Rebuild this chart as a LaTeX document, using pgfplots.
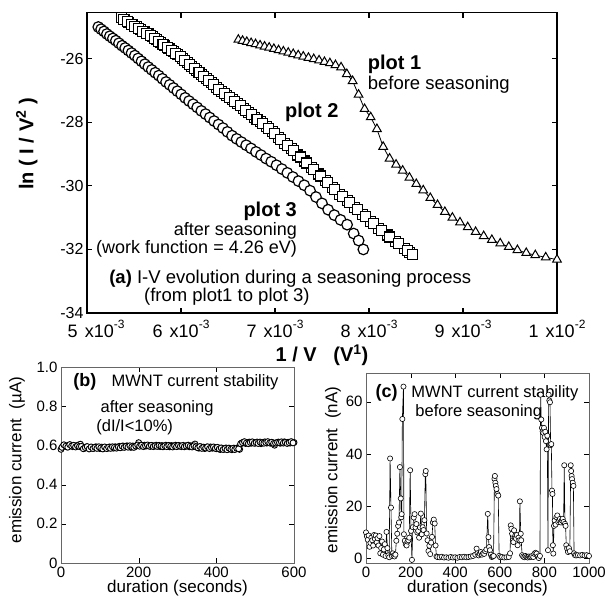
\documentclass[border=0pt]{standalone}
\usepackage{pgfplots}
\pgfplotsset{compat=1.18}
\usepackage{pgfplotstable}
\usepackage{fontspec}
\setmainfont{Liberation Sans}

\newcommand{\fs}[1]{\fontsize{#1}{#1}\selectfont}
\newcommand{\sx}[1]{\raisebox{0.45em}{\fs{12}#1}}

% panel (a): 1/V in units of 1e-3, ln(I/V^2)
\pgfplotstableread{
x y
5.120 -25.00
5.150 -25.07
5.181 -25.14
5.212 -25.22
5.243 -25.29
5.275 -25.36
5.307 -25.43
5.340 -25.51
5.373 -25.59
5.406 -25.66
5.440 -25.74
5.474 -25.82
5.509 -25.90
5.544 -25.99
5.580 -26.08
5.616 -26.17
5.652 -26.26
5.689 -26.35
5.726 -26.44
5.764 -26.53
5.802 -26.63
5.841 -26.73
5.880 -26.82
5.920 -26.92
5.961 -27.02
6.002 -27.12
6.044 -27.23
6.086 -27.33
6.129 -27.43
6.172 -27.53
6.216 -27.64
6.261 -27.74
6.306 -27.85
6.352 -27.96
6.399 -28.07
6.446 -28.18
6.494 -28.30
6.543 -28.42
6.592 -28.52
6.642 -28.62
6.693 -28.72
6.745 -28.82
6.798 -28.93
6.851 -29.03
6.905 -29.14
6.960 -29.24
7.016 -29.35
7.073 -29.47
7.131 -29.59
7.190 -29.72
7.250 -29.85
7.311 -29.98
7.373 -30.15
7.436 -30.35
7.500 -30.55
7.565 -30.75
7.631 -30.92
7.698 -31.07
7.767 -31.22
7.837 -31.50
7.890 -31.72
7.940 -32.00
}\plotthree

\pgfplotstableread{
x y
5.390 -24.77
5.429 -24.84
5.469 -24.91
5.509 -24.98
5.550 -25.05
5.591 -25.13
5.633 -25.20
5.676 -25.28
5.719 -25.36
5.763 -25.45
5.808 -25.55
5.853 -25.64
5.899 -25.74
5.946 -25.84
5.994 -25.94
6.042 -26.05
6.091 -26.18
6.141 -26.30
6.192 -26.43
6.244 -26.56
6.296 -26.69
6.349 -26.82
6.403 -26.96
6.458 -27.08
6.514 -27.21
6.571 -27.35
6.629 -27.48
6.688 -27.62
6.748 -27.76
6.809 -27.90
6.871 -28.04
6.934 -28.19
6.998 -28.36
7.063 -28.53
7.130 -28.72
7.198 -28.90
7.268 -29.09
7.339 -29.28
7.411 -29.48
7.485 -29.69
7.560 -29.90
7.637 -30.12
7.715 -30.32
7.795 -30.53
7.877 -30.75
7.960 -30.97
8.045 -31.19
8.132 -31.40
8.221 -31.61
8.312 -31.82
8.405 -32.04
8.460 -32.17
}\plottwo

\pgfplotstableread{
x y
6.610 -25.40
6.655 -25.435
6.700 -25.47
6.746 -25.505
6.793 -25.54
6.841 -25.58
6.889 -25.615
6.938 -25.65
6.988 -25.69
7.038 -25.73
7.089 -25.77
7.141 -25.81
7.194 -25.85
7.247 -25.89
7.301 -25.93
7.356 -25.97
7.412 -26.01
7.469 -26.05
7.526 -26.10
7.584 -26.14
7.643 -26.20
7.703 -26.27
7.764 -26.48
7.826 -26.70
7.889 -27.13
7.953 -27.58
8.018 -27.84
8.084 -28.21
8.151 -28.77
8.219 -29.14
8.288 -29.33
8.358 -29.52
8.430 -29.74
8.503 -29.94
8.577 -30.14
8.652 -30.38
8.729 -30.60
8.807 -30.82
8.887 -31.00
8.968 -31.15
9.050 -31.30
9.134 -31.45
9.220 -31.58
9.307 -31.70
9.396 -31.81
9.487 -31.92
9.579 -32.02
9.673 -32.11
9.769 -32.18
9.880 -32.25
10.000 -32.32
}\plotone

% panel (b): after seasoning, current in uA
\pgfplotstableread{
t i
0 0.580
5 0.596
10 0.600
15 0.593
20 0.598
25 0.601
30 0.594
35 0.599
40 0.596
45 0.602
50 0.606
55 0.590
60 0.585
65 0.592
70 0.587
75 0.584
80 0.590
85 0.586
90 0.593
95 0.588
100 0.584
105 0.591
110 0.586
115 0.589
120 0.585
125 0.592
130 0.588
135 0.586
140 0.593
145 0.589
150 0.595
155 0.590
160 0.597
165 0.592
170 0.598
175 0.594
180 0.590
185 0.597
190 0.593
195 0.599
200 0.614
205 0.600
210 0.596
215 0.601
220 0.597
225 0.600
230 0.595
235 0.599
240 0.596
245 0.601
250 0.597
255 0.594
260 0.599
265 0.595
270 0.601
275 0.597
280 0.593
285 0.599
290 0.596
295 0.601
300 0.595
305 0.598
310 0.594
315 0.600
320 0.596
325 0.599
330 0.593
335 0.598
340 0.595
345 0.607
350 0.591
355 0.586
360 0.593
365 0.588
370 0.584
375 0.591
380 0.587
385 0.592
390 0.586
395 0.590
400 0.583
405 0.588
410 0.579
415 0.585
420 0.581
425 0.587
430 0.580
435 0.584
440 0.578
445 0.586
450 0.582
455 0.588
460 0.580
465 0.612
470 0.616
475 0.610
480 0.614
485 0.617
490 0.611
495 0.615
500 0.612
505 0.617
510 0.613
515 0.609
520 0.615
525 0.618
530 0.612
535 0.616
540 0.611
545 0.614
550 0.601
555 0.613
560 0.617
565 0.611
570 0.615
575 0.618
580 0.613
585 0.616
590 0.612
595 0.617
600 0.615
2.5 0.590
7.5 0.603
12.5 0.596
17.5 0.591
22.5 0.604
27.5 0.597
32.5 0.600
37.5 0.592
42.5 0.598
47.5 0.594
52.5 0.595
57.5 0.583
62.5 0.589
67.5 0.594
72.5 0.582
77.5 0.592
82.5 0.584
87.5 0.590
92.5 0.585
97.5 0.593
102.5 0.587
107.5 0.582
112.5 0.592
117.5 0.584
122.5 0.590
127.5 0.585
132.5 0.593
137.5 0.590
142.5 0.586
147.5 0.592
152.5 0.588
157.5 0.596
162.5 0.590
167.5 0.595
172.5 0.591
177.5 0.598
182.5 0.593
187.5 0.590
192.5 0.597
197.5 0.602
202.5 0.596
207.5 0.601
212.5 0.594
217.5 0.598
222.5 0.602
227.5 0.596
232.5 0.600
237.5 0.594
242.5 0.598
247.5 0.595
252.5 0.600
257.5 0.597
262.5 0.593
267.5 0.598
272.5 0.594
277.5 0.600
282.5 0.596
287.5 0.592
292.5 0.598
297.5 0.594
302.5 0.600
307.5 0.596
312.5 0.599
317.5 0.593
322.5 0.597
327.5 0.601
332.5 0.596
337.5 0.592
342.5 0.598
347.5 0.593
352.5 0.588
357.5 0.594
362.5 0.585
367.5 0.591
372.5 0.587
377.5 0.593
382.5 0.584
387.5 0.589
392.5 0.592
397.5 0.585
402.5 0.590
407.5 0.582
412.5 0.587
417.5 0.579
422.5 0.584
427.5 0.578
432.5 0.586
437.5 0.581
442.5 0.584
447.5 0.579
452.5 0.585
457.5 0.583
462.5 0.608
467.5 0.614
472.5 0.619
477.5 0.612
482.5 0.609
487.5 0.615
492.5 0.618
497.5 0.611
502.5 0.614
507.5 0.610
512.5 0.617
517.5 0.613
522.5 0.611
527.5 0.615
532.5 0.619
537.5 0.613
542.5 0.616
547.5 0.610
552.5 0.612
557.5 0.615
562.5 0.614
567.5 0.618
572.5 0.612
577.5 0.615
582.5 0.610
587.5 0.614
592.5 0.619
597.5 0.613
}\after

% panel (c): before seasoning, current in nA
\pgfplotstableread{
t i
0 10.0
4 8.5
8 7.2
12 8.8
16 4.5
20 6.0
24 8.0
28 7.0
32 5.0
36 9.0
40 7.5
44 8.8
48 6.2
52 7.8
56 5.0
60 8.6
64 2.0
68 4.0
72 6.5
76 1.5
80 3.5
84 5.5
88 1.0
92 10.2
96 4.0
100 1.2
104 0.5
108 38.3
112 19.5
116 1.0
120 2.0
124 1.2
128 0.8
132 1.5
136 6.8
140 9.5
144 12.5
148 13.8
152 35.0
156 23.0
158 15.8
160 17.0
163 53.4
168 65.8
170 9.3
174 6.8
178 5.5
182 5.0
186 6.5
190 7.0
194 8.0
198 33.8
202 10.6
206 -0.5
210 12.0
214 15.7
218 17.0
222 11.9
226 13.2
230 10.0
234 10.6
238 8.0
242 11.9
246 17.2
250 9.3
254 12.0
258 10.9
262 14.7
266 32.3
268 33.5
272 9.6
276 7.0
280 2.9
284 4.9
288 1.7
292 6.1
296 8.3
300 13.8
304 14.9
308 13.4
312 5.0
316 0.8
320 0.6
330 0.5
340 0.7
350 0.4
360 0.5
370 0.3
380 0.6
390 0.4
400 0.5
410 0.3
420 0.6
430 0.5
440 0.7
450 0.5
460 0.6
470 0.8
480 1.0
490 1.5
496 3.8
500 2.0
505 1.2
510 1.8
515 2.5
520 1.5
525 2.0
530 1.8
535 2.8
540 3.5
546 17.1
549 8.2
552 4.4
556 3.2
560 1.5
564 0.6
568 0.8
572 1.0
576 30.5
578 31.6
580 29.0
582 27.8
585 26.6
589 24.7
593 24.1
597 1.0
602 0.5
610 0.6
620 0.4
630 0.5
640 0.6
646 2.0
649 12.7
652 11.4
655 9.5
658 7.0
661 6.3
664 10.8
667 8.0
670 8.9
673 7.6
676 9.0
680 5.1
684 8.0
688 7.0
690 21.9
694 9.5
696 7.0
700 1.3
705 0.8
710 0.5
715 1.0
720 0.6
725 0.4
730 0.8
735 0.5
740 0.7
745 1.0
750 0.6
755 1.8
760 2.2
765 1.9
770 0.8
775 0.2
780 1.0
783 62.7
786 53.2
789 50.0
792 48.7
795 48.1
798 50.0
801 46.5
804 48.5
807 44.9
810 41.8
813 47.0
816 3.2
819 62.7
822 60.5
825 59.8
828 43.4
831 43.8
834 26.0
836 24.7
838 5.1
840 1.9
843 12.5
846 14.6
850 13.0
854 15.8
858 16.5
862 14.0
866 14.6
870 15.2
874 13.8
878 14.6
882 15.2
886 14.0
889 35.7
892 13.3
895 12.5
898 5.1
902 3.8
906 2.5
910 4.0
914 2.8
918 35.7
920 33.5
922 31.6
924 30.4
927 29.0
930 27.8
933 2.0
937 1.3
942 1.2
950 1.3
960 1.2
970 1.4
980 1.2
990 1.3
1000 1.0
}\before

\pgfplotsset{
  panel/.style={
    anchor=south west, scale only axis, clip=false,
    tick align=inside, major tick length=5pt,
    tick style={black},
  },
}

\begin{document}
\begin{tikzpicture}
\useasboundingbox (0pt,0pt) rectangle (605pt,603pt);

% ---------- (a) ----------
\begin{axis}[panel,
  at={(87pt,290pt)}, width=470pt, height=300.3pt,
  xmin=5, xmax=10, ymin=-34, ymax=-24.55,
  xtick={5,6,7,8,9,10}, ytick={-34,-32,-30,-28,-26},
  xticklabels={{\hspace*{18pt}5\hspace{0.4em}x10\sx{-3}},{6\hspace{0.4em}x10\sx{-3}},{7\hspace{0.4em}x10\sx{-3}},{8\hspace{0.4em}x10\sx{-3}},{9\hspace{0.4em}x10\sx{-3}},{1\hspace{0.4em}x10\sx{-2}}},
  yticklabels={-34,-32,-30,-28,-26},
  axis line style={line width=1.2pt},
  every tick/.append style={line width=1.2pt},
  yticklabel style={font=\fs{16}},
  xticklabel style={font=\fs{18}, yshift=-4pt},
  xlabel={1 / V \ \ (V\textsuperscript{1})},
  ylabel={ln ( I / V\textsuperscript{2} )},
  xlabel style={at={(axis description cs:0.5,-0.14)}, anchor=center, font=\bfseries\fs{20}},
  ylabel style={at={(axis description cs:-0.128,0.563)}, anchor=center, font=\bfseries\fs{20}},
]
\addplot[only marks, mark=*, mark size=5.3pt,
  mark options={fill=white, draw=black, line width=1.2pt}] table[x=x,y=y] {\plotthree};
% squares appear doubled in the original: rear copy, then front copy
\addplot[only marks, mark=square*, mark size=5pt, xshift=-2.5pt, yshift=2pt,
  mark options={fill=white, draw=black, line width=1.1pt}] table[x=x,y=y] {\plottwo};
\addplot[only marks, mark=square*, mark size=5pt,
  mark options={fill=white, draw=black, line width=1.1pt}] table[x=x,y=y] {\plottwo};
\addplot[black, line width=0.8pt, mark=triangle*, mark size=5pt,
  mark options={fill=white, draw=black, line width=1pt}] table[x=x,y=y] {\plotone};

\node[anchor=west, font=\bfseries\fs{20}] at (axis cs:7.95,-26.19) {plot 1};
\node[anchor=west, font=\fs{18.5}] at (axis cs:7.95,-26.82) {before seasoning};
\node[anchor=west, font=\bfseries\fs{20}] at (axis cs:7.07,-27.69) {plot 2};
\node[anchor=east, font=\bfseries\fs{20}] at (axis cs:7.27,-30.81) {plot 3};
\node[anchor=east, font=\fs{18}] at (axis cs:7.27,-31.43) {after seasoning};
\node[anchor=east, font=\fs{18}] at (axis cs:7.27,-31.97) {(work function = 4.26 eV)};
\node[anchor=west, font=\fs{18.5}] at (axis cs:5.2,-32.91) {{\bfseries(a)} I-V evolution during a seasoning process};
\node[anchor=west, font=\fs{18.5}] at (axis cs:5.57,-33.49) {(from plot1 to plot 3)};
\end{axis}

% ---------- (b) ----------
\begin{axis}[panel,
  at={(61pt,40pt)}, width=233pt, height=196pt,
  xmin=0, xmax=600, ymin=0, ymax=1,
  xtick={0,200,400,600}, xticklabels={0,200,400,600},
  ytick={0,0.2,0.4,0.6,0.8,1}, yticklabels={0,0.2,0.4,0.6,0.8,1.0},
  axis line style={black!60, line width=0.8pt},
  tick label style={font=\fs{15}},
  xlabel={duration (seconds)},
  ylabel={emission current \ (µA)},
  xlabel style={at={(axis description cs:0.5,-0.128)}, anchor=center, font=\fs{17}},
  ylabel style={at={(axis description cs:-0.189,0.525)}, anchor=center, font=\fs{17}},
]
\addplot[only marks, mark=*, mark size=3pt,
  mark options={fill=white, draw=black, line width=0.9pt}] table[x=t,y=i] {\after};
\node[anchor=west, font=\bfseries\fs{18}] at (axis cs:23,0.923) {(b)};
\node[anchor=west, font=\fs{16.5}] at (axis cs:121,0.923) {MWNT current stability};
\node[anchor=west, font=\fs{16.5}] at (axis cs:93,0.791) {after seasoning};
\node[anchor=west, font=\fs{16.5}] at (axis cs:82,0.694) {(dI/I<10\%)};
\end{axis}

% ---------- (c) ----------
\begin{axis}[panel,
  at={(366pt,40pt)}, width=223pt, height=190pt,
  xmin=0, xmax=1000, ymin=-1.7, ymax=71,
  xtick={0,200,400,600,800,1000}, xticklabels={0,200,400,600,800,1000},
  ytick={0,20,40,60}, yticklabels={0,20,40,60},
  axis line style={black!60, line width=0.8pt},
  tick label style={font=\fs{15}},
  xlabel={duration (seconds)},
  ylabel={emission current \ (nA)},
  xlabel style={at={(axis description cs:0.5,-0.132)}, anchor=center, font=\fs{17}},
  ylabel style={at={(axis description cs:-0.148,0.49)}, anchor=center, font=\fs{17}},
]
\addplot[black, line width=0.6pt, mark=*, mark size=2.6pt,
  mark options={fill=white, draw=black, line width=0.6pt}] table[x=t,y=i] {\before};
\node[anchor=west, font=\bfseries\fs{18}] at (axis cs:27,63.3) {(c)};
\node[anchor=west, font=\fs{16.5}] at (axis cs:188,63.3) {MWNT current stability};
\node[anchor=west, font=\fs{16.5}] at (axis cs:206,56.0) {before seasoning};
\end{axis}
\end{tikzpicture}
\end{document}
